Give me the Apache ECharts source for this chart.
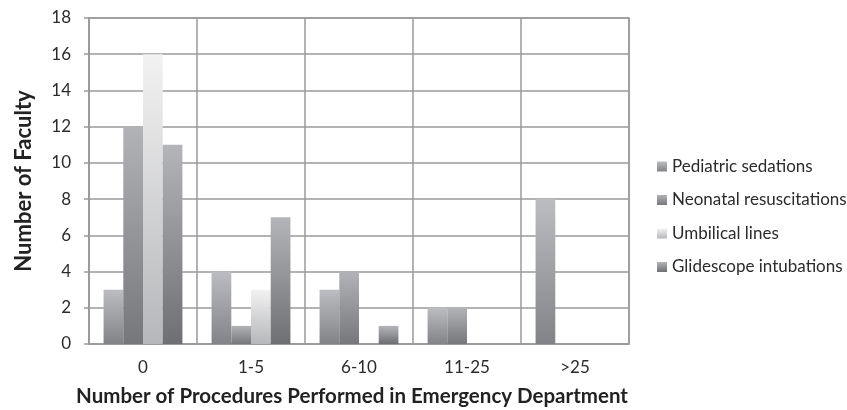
<!DOCTYPE html>
<html><head><meta charset="utf-8">
<script src="https://cdn.jsdelivr.net/npm/echarts@6/dist/echarts.min.js"></script>
<style>html,body{margin:0;padding:0;background:#fff}#c{width:847px;height:410px}</style>
</head><body><div id="c"></div>
<script>
var categories = ['0', '1-5', '6-10', '11-25', '>25'];
var pediatricSedations = [3, 4, 3, 2, 8];
var neonatalResuscitations = [12, 1, 4, 2, 0];
var umbilicalLines = [16, 3, 0, 0, 0];
var glidescopeIntubations = [11, 7, 1, 0, 0];
var yTicks = [0, 2, 4, 6, 8, 10, 12, 14, 16, 18];

function grad(top, bottom) {
  return new echarts.graphic.LinearGradient(0, 0, 0, 1, [
    {offset: 0, color: top}, {offset: 1, color: bottom}
  ]);
}
var FONT = 'Lato, "Open Sans", sans-serif';
var chart = echarts.init(document.getElementById('c'), null, {renderer: 'canvas'});
var seriesDefs = [
  {name: 'Pediatric sedations', data: pediatricSedations, top: '#bcbdc0', bottom: '#828386'},
  {name: 'Neonatal resuscitations', data: neonatalResuscitations, top: '#b2b3b6', bottom: '#76777a'},
  {name: 'Umbilical lines', data: umbilicalLines, top: '#f2f2f2', bottom: '#b6b7ba'},
  {name: 'Glidescope intubations', data: glidescopeIntubations, top: '#b4b5b8', bottom: '#6e6f72'}
];
chart.setOption({
  animation: false,
  backgroundColor: '#fff',
  grid: {left: 89, right: 218, top: 18, bottom: 66, outerBoundsMode: 'none', containLabel: false,
         show: true, borderColor: '#9a9a9a', borderWidth: 1.5},
  legend: {
    orient: 'vertical', left: 652, top: 153, itemGap: 16.5, itemWidth: 10, itemHeight: 10,
    icon: 'rect',
    textStyle: {fontFamily: FONT, fontSize: 17, color: '#2b2b2b', padding: [0, 0, 0, 0]},
    data: seriesDefs.map(function (s) { return s.name; })
  },
  xAxis: {
    type: 'category', data: categories,
    name: 'Number of Procedures Performed in Emergency Department',
    nameLocation: 'middle', nameGap: 42,
    nameTextStyle: {fontFamily: FONT, fontSize: 20.5, fontWeight: 'bold', color: '#222', padding: [0, 14, 0, 0]},
    axisLine: {lineStyle: {color: '#9a9a9a', width: 1.5}},
    axisTick: {show: false},
    axisLabel: {fontFamily: FONT, fontSize: 17, color: '#2b2b2b', margin: 15},
    splitLine: {show: true, lineStyle: {color: '#9a9a9a', width: 1.5}}
  },
  yAxis: {
    type: 'value', min: yTicks[0], max: yTicks[yTicks.length - 1], interval: 2,
    name: 'Number of Faculty', nameLocation: 'middle', nameGap: 54,
    nameTextStyle: {fontFamily: FONT, fontSize: 22, fontWeight: 'bold', color: '#222'},
    axisLine: {show: true, lineStyle: {color: '#9a9a9a', width: 1.5}},
    axisTick: {show: true, length: 5, lineStyle: {color: '#9a9a9a', width: 1.5}},
    axisLabel: {fontFamily: FONT, fontSize: 17, color: '#2b2b2b', margin: 18},
    splitLine: {show: true, lineStyle: {color: '#9a9a9a', width: 1.5}}
  },
  series: seriesDefs.map(function (s) {
    return {
      name: s.name, type: 'bar', data: s.data,
      barGap: '0%', barCategoryGap: '27%',
      itemStyle: {color: grad(s.top, s.bottom)}
    };
  })
});
</script></body></html>
